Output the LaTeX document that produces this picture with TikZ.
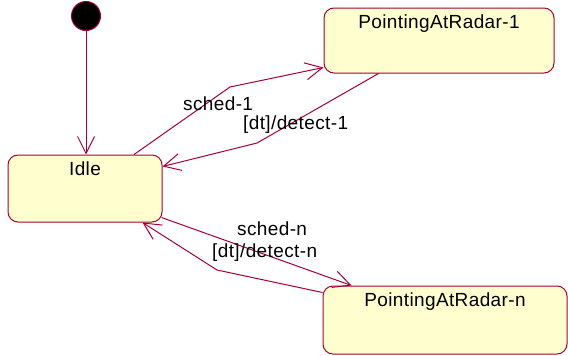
\documentclass[tikz,border=0pt]{standalone}
\usepackage{fontspec}
\setmainfont{Liberation Sans}[LetterSpace=2]
\usetikzlibrary{arrows.meta}
\definecolor{umlred}{HTML}{A80036}
\definecolor{umlfill}{HTML}{FEFECE}
\begin{document}
\begin{tikzpicture}[x=1pt,y=-1pt,
  statebox/.style={draw=umlred, fill=umlfill, line width=1pt, rounded corners=10pt, inner sep=0pt},
  statelabel/.style={anchor=north, inner sep=0pt, yshift=-7pt, font=\fontsize{19}{21}\selectfont},
  edgelabel/.style={inner sep=0pt, font=\fontsize{19}{21}\selectfont},
  trans/.style={draw=umlred, line width=1pt, -{Straight Barb[length=17pt,width=17pt]}}]
\useasboundingbox (0,0) rectangle (568,356);
% initial state
\node[circle, draw=umlred, fill=black, line width=1pt, minimum size=29pt, inner sep=0pt] (init) at (86,16) {};
% states
\node[statebox, minimum width=154pt, minimum height=67pt] (idle) at (85,188.5) {};
\node[statelabel] (idlet) at (idle.north) {Idle};
\node[statebox, minimum width=230pt, minimum height=65pt] (p1) at (439,40.5) {};
\node[statelabel] (p1t) at (p1.north) {PointingAtRadar-1};
\node[statebox, minimum width=244pt, minimum height=68pt] (pn) at (445,320) {};
\node[statelabel] (pnt) at (pn.north) {PointingAtRadar-n};
% bend points
\coordinate (c1) at (230,87);
\coordinate (c2) at (257,143);
\coordinate (c3) at (217,270);
% transitions
\draw[trans] (init) -- (init |- idle.north);
\draw[trans] ([xshift=49pt]idle.north) -- (c1) -- ([yshift=6pt]p1.south west);
\draw[trans] ([xshift=55pt]p1.south west) -- (c2) -- ([yshift=-12pt]idle.north east);
\draw[trans] ([yshift=5pt,xshift=-1pt]idle.south east) -- ([xshift=29pt]pn.north west);
\draw[trans] ([yshift=-7pt]pn.north west) -- (c3) -- ([xshift=-20pt]idle.south east);
% labels
\node[edgelabel, anchor=west] (l1) at (183,104) {sched-1};
\node[edgelabel, anchor=west] (l2) at (243,125) {[dt]/detect-1};
\node[edgelabel, anchor=west] (l3) at (237,229) {sched-n};
\node[edgelabel, anchor=west] (l4) at (212,253) {[dt]/detect-n};
\end{tikzpicture}
\end{document}
